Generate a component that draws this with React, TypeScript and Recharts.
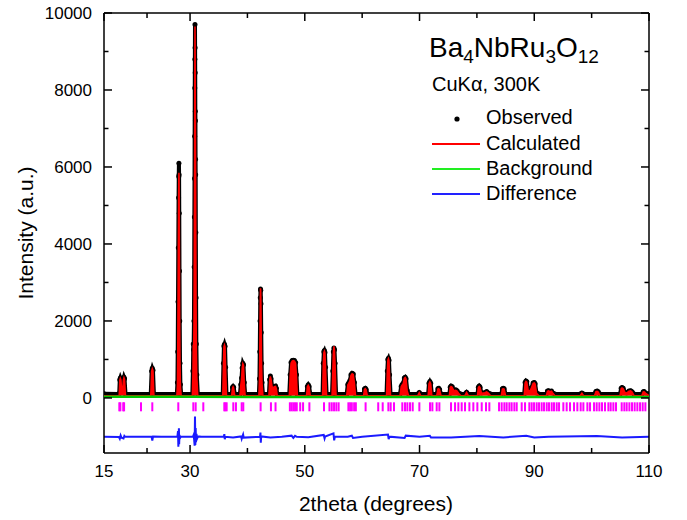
import React from 'react';
import { ComposedChart, Area, Line, Scatter, XAxis, YAxis } from 'recharts';

const X_TICKS = [15, 22.5, 30, 40, 50, 60, 70, 80, 90, 100, 110];
const X_LABELS = [15, 30, 50, 70, 90, 110];
const Y_TICKS = [0, 1000, 2000, 3000, 4000, 5000, 6000, 7000, 8000, 9000, 10000];
const Y_LABELS = [0, 2000, 4000, 6000, 8000, 10000];

// 2theta, observed, calculated
const profile: [number, number, number][] = [
  [15, 110, 60], [17.5, 105, 60],
  [17.65, 110, 60], [17.75, 470, 460], [17.85, 520, 510], [17.95, 480, 470], [18.1, 190, 180],
  [18.25, 200, 190], [18.38, 480, 470], [18.48, 540, 530], [18.58, 500, 490], [18.75, 105, 60],
  [23.15, 105, 60], [23.3, 700, 690], [23.42, 770, 760], [23.54, 720, 710], [23.7, 105, 60],
  [27.7, 105, 60], [27.8, 400, 350], [27.85, 1200, 1150], [27.9, 2500, 2450], [27.95, 3900, 3850],
  [28.0, 5200, 5150], [28.03, 5750, 5700], [28.06, 6100, 5850], [28.09, 5800, 5750], [28.12, 4800, 4850],
  [28.16, 3300, 3350], [28.2, 2000, 2050], [28.25, 900, 950], [28.32, 350, 330], [28.45, 105, 60],
  [30.4, 105, 60], [30.5, 700, 650], [30.56, 1400, 1380], [30.62, 1250, 1200], [30.68, 2000, 1950],
  [30.72, 3400, 3300], [30.75, 4700, 4600], [30.78, 5700, 5650], [30.8, 6800, 6750], [30.82, 8050, 8100],
  [30.84, 8800, 8900], [30.86, 9700, 9650], [30.88, 9100, 9300], [30.9, 8450, 8500], [30.92, 7450, 7500],
  [30.94, 7200, 7100], [30.96, 6200, 6300], [30.98, 5800, 5600], [31.01, 4300, 4200], [31.05, 2600, 2500],
  [31.1, 1400, 1300], [31.18, 600, 550], [31.35, 105, 60],
  [35.7, 105, 60], [35.82, 900, 880], [35.9, 1350, 1330], [36.0, 1395, 1380], [36.1, 1340, 1330],
  [36.2, 800, 780], [36.35, 105, 60],
  [37.25, 105, 60], [37.4, 270, 260], [37.5, 295, 290], [37.6, 270, 260], [37.8, 105, 60],
  [38.7, 105, 60], [38.85, 350, 340], [38.98, 520, 500], [39.08, 780, 770], [39.2, 900, 890],
  [39.32, 860, 850], [39.45, 400, 390], [39.6, 105, 60],
  [42.0, 105, 60], [42.1, 500, 480], [42.15, 1200, 1150], [42.2, 2000, 1950], [42.24, 2600, 2550],
  [42.28, 2830, 2850], [42.32, 2800, 2780], [42.36, 2450, 2400], [42.41, 1700, 1650], [42.47, 900, 860],
  [42.55, 400, 380], [42.7, 105, 60],
  [43.75, 105, 60], [43.88, 480, 470], [44.0, 570, 560], [44.12, 500, 490], [44.3, 300, 290],
  [44.5, 280, 270], [44.7, 300, 290], [44.9, 310, 300], [45.05, 250, 240], [45.2, 105, 60],
  [47.3, 105, 60], [47.45, 600, 580], [47.6, 920, 900], [47.8, 970, 960], [48.0, 980, 970],
  [48.2, 970, 960], [48.4, 920, 900], [48.55, 600, 580], [48.7, 105, 60],
  [50.3, 105, 60], [50.45, 300, 290], [50.6, 340, 330], [50.75, 300, 290], [50.95, 105, 60],
  [53.1, 105, 60], [53.22, 900, 880], [53.32, 1200, 1180], [53.42, 1230, 1220], [53.52, 1180, 1170],
  [53.62, 800, 780], [53.8, 105, 60],
  [54.75, 105, 60], [54.88, 700, 690], [54.98, 1200, 1180], [55.08, 1300, 1340], [55.18, 1250, 1240],
  [55.28, 900, 880], [55.45, 105, 60],
  [57.3, 105, 60], [57.5, 350, 340], [57.65, 390, 380], [57.85, 450, 440], [58.05, 600, 590],
  [58.25, 640, 630], [58.45, 620, 610], [58.65, 400, 390], [58.85, 105, 60],
  [60.25, 105, 60], [60.4, 230, 220], [60.55, 250, 240], [60.7, 220, 210], [60.9, 105, 60],
  [64.25, 105, 60], [64.38, 700, 680], [64.48, 1000, 980], [64.58, 1030, 1020], [64.68, 980, 970],
  [64.78, 600, 580], [64.95, 105, 60],
  [66.6, 105, 60], [66.8, 300, 290], [66.95, 340, 330], [67.15, 380, 370], [67.35, 520, 510],
  [67.5, 540, 530], [67.65, 500, 490], [67.85, 200, 190], [68.1, 105, 60],
  [69.7, 105, 60], [69.95, 140, 135], [70.2, 105, 60],
  [71.5, 105, 60], [71.65, 380, 370], [71.8, 425, 415], [71.95, 380, 370], [72.15, 105, 60],
  [73.0, 105, 60], [73.2, 240, 230], [73.35, 250, 240], [73.5, 220, 210], [73.75, 105, 60],
  [75.2, 105, 60], [75.35, 280, 270], [75.5, 310, 300], [75.7, 290, 280], [75.95, 200, 190],
  [76.3, 210, 200], [76.55, 190, 180], [76.8, 130, 125], [77.2, 105, 60],
  [77.9, 105, 60], [78.2, 150, 145], [78.5, 105, 60],
  [80.1, 105, 60], [80.25, 280, 270], [80.4, 310, 300], [80.55, 280, 270], [80.8, 130, 125],
  [81.4, 140, 135], [81.7, 165, 160], [82.0, 130, 125], [82.4, 105, 60],
  [84.25, 105, 60], [84.45, 240, 230], [84.6, 250, 240], [84.75, 240, 230], [85.0, 105, 60],
  [88.25, 105, 60], [88.4, 400, 390], [88.55, 440, 430], [88.7, 420, 410], [88.95, 200, 190],
  [89.2, 180, 175], [89.45, 250, 240], [89.8, 390, 380], [90.0, 400, 390], [90.15, 370, 360],
  [90.4, 130, 125], [90.8, 105, 60],
  [92.1, 105, 60], [92.3, 180, 175], [92.5, 190, 185], [92.75, 170, 165], [93.0, 180, 175],
  [93.25, 130, 125], [93.6, 105, 60],
  [98.0, 105, 60], [98.3, 130, 125], [98.6, 105, 60],
  [100.5, 105, 60], [100.75, 170, 165], [100.95, 180, 175], [101.15, 160, 155], [101.45, 105, 60],
  [104.95, 105, 60], [105.15, 250, 240], [105.3, 270, 260], [105.5, 250, 240], [105.8, 150, 145],
  [106.1, 130, 125], [106.5, 180, 175], [106.8, 190, 185], [107.05, 160, 155], [107.4, 105, 60],
  [108.75, 105, 60], [109.0, 160, 155], [109.15, 165, 160], [109.4, 130, 125], [110, 110, 60],
];

const background: [number, number][] = [
  [15, 30], [30, 28], [60, 25], [110, 25],
];

// observed - calculated, shifted down
const difference: [number, number][] = [
  [15, -1010], [17.6, -1015], [17.75, -1060], [17.9, -975], [18.05, -1030], [18.4, -1050], [18.55, -985],
  [18.7, -1010], [21.0, -1005], [23.3, -1010], [23.42, -1110], [23.55, -1000], [25, -1010],
  [27.8, -1000], [27.9, -860], [27.96, -1270], [28.02, -930], [28.06, -790], [28.1, -1200], [28.16, -960],
  [28.25, -1040], [28.4, -1005], [30.5, -1010], [30.6, -970], [30.7, -1060], [30.8, -1240], [30.86, -485],
  [30.92, -1220], [30.98, -780], [31.04, -1150], [31.12, -930], [31.22, -1060], [31.4, -1000],
  [32, -1010], [35.9, -1000], [35.98, -940], [36.05, -1070], [36.15, -1010], [37.5, -1030],
  [38.9, -1000], [39.0, -1060], [39.1, -1010], [39.25, -950], [39.35, -1030], [42.2, -1010],
  [42.27, -900], [42.33, -1160], [42.4, -1000], [44.0, -1030], [46, -1010], [47.7, -980], [48.0, -1040],
  [48.3, -985], [48.6, -1010], [50.6, -1020], [53.3, -960], [53.45, -1050], [53.55, -1000],
  [55.0, -920], [55.12, -1100], [55.25, -1000], [57.5, -1010], [58.2, -980], [58.4, -1040], [60, -1010],
  [64.5, -950], [64.62, -1070], [64.75, -1005], [67.4, -1040], [67.6, -980], [70, -1010], [71.8, -985],
  [72.0, -1030], [75.5, -1030], [80.4, -990], [84.6, -1025], [88.6, -985], [90.0, -1030], [92.5, -1005],
  [100.9, -990], [105.3, -1025], [110, -1010],
];

// Bragg reflection positions (2theta)
const braggPositions = [
  17.67, 17.85, 18.35, 18.5, 21.45, 23.42, 27.95, 30.57, 30.98, 32.31, 35.97, 36.15, 36.38, 37.54, 38.0,
  39.0, 39.28, 42.3, 44.1, 44.9, 47.4, 47.7, 48.0, 48.3, 48.6, 49.2, 49.7, 50.8, 53.35, 54.3, 54.7, 55.1,
  55.5, 55.9, 57.6, 57.9, 58.2, 58.6, 58.9, 60.6, 62.8, 63.58, 64.57, 64.97, 65.55, 67.0, 67.47, 67.88,
  68.34, 68.81, 69.97, 71.83, 72.24, 72.99, 73.46, 75.49, 76.19, 76.77, 77.35, 77.93, 78.69, 79.38,
  80.08, 80.84, 81.59, 82.17, 83.86, 84.32, 84.79, 85.19, 85.66, 86.06, 86.53, 86.94, 87.81, 88.39,
  89.14, 89.55, 89.96, 90.42, 90.83, 91.29, 91.7, 92.17, 92.57, 93.04, 93.44, 93.91, 94.32, 95.07,
  95.65, 96.23, 96.93, 97.51, 98.09, 98.56, 99.26, 99.72, 100.42, 100.88, 101.35, 101.81, 102.33,
  102.92, 103.32, 103.79, 104.25, 105.24, 105.7, 106.11, 106.58, 107.04, 107.5, 107.97, 108.44,
  108.9, 109.37,
];
const BRAGG_LEVEL = -230;

const FONT = "'Liberation Sans', Arial, sans-serif";

const profileData = profile.map(([x, obs, calc]) => ({ x, obs, calc }));
const bgData = background.map(([x, b]) => ({ x, b }));
const diffData = difference.map(([x, d]) => ({ x, d }));
const braggData = braggPositions.map((x) => ({ x, y: BRAGG_LEVEL }));

const BottomTick = (p: any) => {
  const v = p.payload.value;
  const major = X_LABELS.includes(v);
  return (
    <g>
      <line x1={p.x} x2={p.x} y1={p.y} y2={p.y - (major ? 8 : 5)} stroke="#000" strokeWidth={1.5} />
      {major && (
        <text x={p.x} y={p.y + 24} textAnchor="middle" fontSize={17} fill="#000" fontFamily={FONT}>
          {v}
        </text>
      )}
    </g>
  );
};

const TopTick = (p: any) => {
  const major = X_LABELS.includes(p.payload.value);
  return <line x1={p.x} x2={p.x} y1={p.y} y2={p.y + (major ? 8 : 5)} stroke="#000" strokeWidth={1.5} />;
};

const LeftTick = (p: any) => {
  const v = p.payload.value;
  const major = Y_LABELS.includes(v);
  return (
    <g>
      <line x1={p.x} x2={p.x + (major ? 8 : 4.5)} y1={p.y} y2={p.y} stroke="#000" strokeWidth={1.5} />
      {major && (
        <text x={p.x - 12} y={p.y} dy="0.36em" textAnchor="end" fontSize={17} fill="#000" fontFamily={FONT}>
          {v}
        </text>
      )}
    </g>
  );
};

const RightTick = (p: any) => {
  const major = Y_LABELS.includes(p.payload.value);
  return <line x1={p.x} x2={p.x - (major ? 8 : 4.5)} y1={p.y} y2={p.y} stroke="#000" strokeWidth={1.5} />;
};

const BraggMark = (p: any) => (
  <rect x={p.cx - 1} y={p.cy - 4.5} width={2} height={9} fill="#ff00ff" />
);

const axisLine = { stroke: '#000', strokeWidth: 1.5 };

export default function App() {
  return (
    <div style={{ position: 'absolute', left: 0, top: 0, width: 687, height: 520, background: '#fff', fontFamily: FONT }}>
      <ComposedChart width={687} height={520} data={profileData} margin={{ top: 0, right: 0, bottom: 0, left: 0 }}>
        <XAxis dataKey="x" type="number" domain={[15, 110]} ticks={X_TICKS} interval={0} height={67}
          tickSize={0} tickMargin={0} tickLine={false} axisLine={axisLine} tick={BottomTick} allowDataOverflow />
        <XAxis xAxisId="t" orientation="top" dataKey="x" type="number" domain={[15, 110]} ticks={X_TICKS}
          interval={0} height={13} tickSize={0} tickMargin={0} tickLine={false} axisLine={axisLine} tick={TopTick} allowDataOverflow />
        <YAxis type="number" domain={[-1430, 10000]} ticks={Y_TICKS} interval={0} width={104}
          tickSize={0} tickMargin={0} tickLine={false} axisLine={axisLine} tick={LeftTick} allowDataOverflow />
        <YAxis yAxisId="r" orientation="right" type="number" domain={[-1430, 10000]} ticks={Y_TICKS} interval={0}
          width={38} tickSize={0} tickMargin={0} tickLine={false} axisLine={axisLine} tick={RightTick} allowDataOverflow />

        <Scatter data={braggData} dataKey="y" shape={BraggMark} isAnimationActive={false} />
        <Line data={diffData} dataKey="d" type="linear" stroke="#1a1aff" strokeWidth={2} dot={false} isAnimationActive={false} />
        <Line dataKey="obs" type="linear" stroke="#000" strokeWidth={4} zIndex={400}
          dot={{ r: 2.5, fill: '#000', stroke: 'none' }} activeDot={false} isAnimationActive={false} />
        <Area dataKey="calc" type="linear" baseValue={60} fill="#ff0000" fillOpacity={1} stroke="#ff0000"
          strokeWidth={1.5} zIndex={700} isAnimationActive={false} />
        <Line data={bgData} dataKey="b" type="linear" stroke="#00c800" strokeWidth={2.5} zIndex={800}
          dot={false} isAnimationActive={false} />
      </ComposedChart>

      <svg width={687} height={520} style={{ position: 'absolute', left: 0, top: 0, pointerEvents: 'none' }} fontFamily={FONT}>
        <text transform="rotate(-90 33 233)" textAnchor="middle" fontSize={21} fill="#000">
          <tspan x={33} y={233}>Intensity (a.u.)</tspan>
        </text>
        <text x={376} y={511} textAnchor="middle" fontSize={21} fill="#000">2theta (degrees)</text>

        <text x={429} y={57} fontSize={28} fill="#000">
          Ba<tspan fontSize={19} dy={6}>4</tspan>
          <tspan dy={-6}>NbRu</tspan>
          <tspan fontSize={19} dy={6}>3</tspan>
          <tspan dy={-6}>O</tspan>
          <tspan fontSize={19} dy={6}>12</tspan>
        </text>
        <text x={432} y={91} fontSize={20} fill="#000">CuKα, 300K</text>

        <circle cx={457} cy={119} r={2.6} fill="#000" />
        <text x={486} y={124} fontSize={20} fill="#000">Observed</text>
        <line x1={432} x2={480} y1={144} y2={144} stroke="#ff0000" strokeWidth={2} />
        <text x={486} y={149.5} fontSize={20} fill="#000">Calculated</text>
        <line x1={432} x2={480} y1={169} y2={169} stroke="#22ee22" strokeWidth={2} />
        <text x={486} y={175} fontSize={20} fill="#000">Background</text>
        <line x1={432} x2={480} y1={194} y2={194} stroke="#2222ff" strokeWidth={2} />
        <text x={486} y={200} fontSize={20} fill="#000">Difference</text>
      </svg>
    </div>
  );
}
